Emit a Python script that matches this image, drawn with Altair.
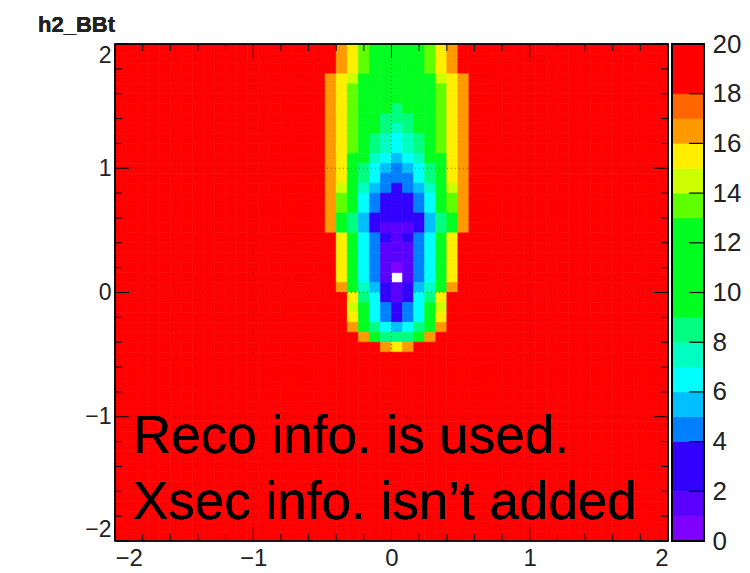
import altair as alt
import pandas as pd

# ---- histogram definition: 50 x 50 bins on [-2, 2] x [-2, 2] ----
N_BINS = 50
X_MIN, X_MAX = -2.0, 2.0
Y_MIN, Y_MAX = -2.0, 2.0

# colour contours (z range 0..20) and the palette colour of each band
z_edges = [0, 1, 2, 4, 5, 6, 7, 8, 9, 13, 14, 15, 16, 17, 18, 20]
z_colors = ["#8000ff", "#5a00ff", "#3200ff", "#0080ff", "#00bfff", "#00ffff",
            "#00ffc0", "#00ff80", "#00ff20", "#60ff00", "#ccff00", "#ffee00",
            "#ff9900", "#ff6600", "#ff0000"]

# bins above the z maximum everywhere outside the central block
z_saturated = 20

# bin contents of the central block: x bins 18..32, y bins counted from the top (row 0 = y in [1.92, 2.00])
core_first_col = 18
core_rows = [
    [19, 19, 16.5, 15.5, 13.5, 11, 11, 11, 11, 11, 13.5, 15.5, 16.5, 19, 19],
    [19, 19, 16.5, 15.5, 13.5, 11, 11, 11, 11, 11, 13.5, 15.5, 16.5, 19, 19],
    [19, 19, 16.5, 15.5, 13.5, 11, 11, 11, 11, 11, 13.5, 15.5, 16.5, 19, 19],
    [19, 16.5, 15.5, 14.5, 11, 11, 11, 11, 11, 11, 11, 14.5, 15.5, 16.5, 19],
    [19, 16.5, 15.5, 13.5, 11, 11, 11, 11, 11, 11, 11, 13.5, 15.5, 16.5, 19],
    [19, 16.5, 15.5, 13.5, 11, 11, 11, 11, 11, 11, 11, 13.5, 15.5, 16.5, 19],
    [19, 16.5, 15.5, 13.5, 11, 11, 11, 8.5, 11, 11, 11, 13.5, 15.5, 16.5, 19],
    [19, 16.5, 15.5, 13.5, 11, 11, 8.5, 8.5, 8.5, 11, 11, 13.5, 15.5, 16.5, 19],
    [19, 16.5, 15.5, 13.5, 11, 11, 8.5, 7.5, 8.5, 11, 11, 13.5, 15.5, 16.5, 19],
    [19, 16.5, 15.5, 13.5, 11, 8.5, 7.5, 6.5, 7.5, 8.5, 11, 13.5, 15.5, 16.5, 19],
    [19, 16.5, 15.5, 13.5, 11, 8.5, 7.5, 6.5, 7.5, 8.5, 11, 13.5, 15.5, 16.5, 19],
    [19, 16.5, 15.5, 11, 11, 7.5, 6.5, 5.5, 6.5, 7.5, 11, 11, 15.5, 16.5, 19],
    [19, 16.5, 15.5, 11, 8.5, 6.5, 5.5, 4.5, 5.5, 6.5, 8.5, 11, 15.5, 16.5, 19],
    [19, 16.5, 15.5, 11, 8.5, 6.5, 4.5, 4.5, 4.5, 6.5, 8.5, 11, 15.5, 16.5, 19],
    [19, 16.5, 14.5, 11, 7.5, 5.5, 4.5, 3, 4.5, 5.5, 7.5, 11, 14.5, 16.5, 19],
    [19, 16.5, 13.5, 11, 6.5, 4.5, 3, 3, 3, 4.5, 6.5, 11, 13.5, 16.5, 19],
    [19, 16.5, 13.5, 11, 6.5, 4.5, 3, 3, 3, 4.5, 6.5, 11, 13.5, 16.5, 19],
    [19, 16.5, 11, 8.5, 5.5, 3, 3, 3, 3, 3, 5.5, 8.5, 11, 16.5, 19],
    [19, 16.5, 11, 8.5, 5.5, 3, 1.5, 1.5, 1.5, 3, 5.5, 8.5, 11, 16.5, 19],
    [19, 19, 15.5, 11, 6.5, 4.5, 3, 1.5, 3, 4.5, 6.5, 11, 15.5, 19, 19],
    [19, 19, 15.5, 11, 6.5, 4.5, 1.5, 1.5, 1.5, 4.5, 6.5, 11, 15.5, 19, 19],
    [19, 19, 15.5, 11, 6.5, 4.5, 1.5, 1.5, 1.5, 4.5, 6.5, 11, 15.5, 19, 19],
    [19, 19, 15.5, 11, 6.5, 4.5, 1.5, 0.5, 1.5, 4.5, 6.5, 11, 15.5, 19, 19],
    [19, 19, 15.5, 11, 6.5, 4.5, 1.5, 0, 1.5, 4.5, 6.5, 11, 15.5, 19, 19],
    [19, 19, 16.5, 11, 7.5, 5.5, 3, 1.5, 3, 5.5, 7.5, 11, 16.5, 19, 19],
    [19, 19, 19, 15.5, 8.5, 6.5, 3, 1.5, 3, 6.5, 8.5, 15.5, 19, 19, 19],
    [19, 19, 19, 14.5, 11, 6.5, 4.5, 3, 4.5, 6.5, 11, 14.5, 19, 19, 19],
    [19, 19, 19, 15.5, 11, 6.5, 4.5, 3, 4.5, 6.5, 11, 15.5, 19, 19, 19],
    [19, 19, 19, 16.5, 11, 8.5, 6.5, 5.5, 6.5, 8.5, 11, 16.5, 19, 19, 19],
    [19, 19, 19, 19, 16.5, 11, 8.5, 8.5, 8.5, 11, 16.5, 19, 19, 19, 19],
    [19, 19, 19, 19, 19, 19, 16.5, 15.5, 16.5, 19, 19, 19, 19, 19, 19],
]

# axis ticks and labels
major_ticks = [-2, -1, 0, 1, 2]
minor_ticks = [-1.8, -1.6, -1.4, -1.2, -0.8, -0.6, -0.4, -0.2,
               0.2, 0.4, 0.6, 0.8, 1.2, 1.4, 1.6, 1.8]
grid_lines = [-1, 0, 1]
z_ticks = [2, 4, 6, 8, 10, 12, 14, 16, 18]
z_labels = [0, 2, 4, 6, 8, 10, 12, 14, 16, 18, 20]

hist_name = "h2_BBt"
note_text = "Reco info. is used.\nXsec info. isn\u2019t added"

# ---- layout (pixels) ----
W, H = 553, 497
PAD_L, PAD_T = 115, 44
CB_X0, CB_X1 = 557, 589
MAJ_LEN, MIN_LEN, CB_TICK_LEN = 14, 7, 15
FONT = "Liberation Sans"

# ---- build the bin table ----
dx = (X_MAX - X_MIN) / N_BINS
dy = (Y_MAX - Y_MIN) / N_BINS
n_core_cols = len(core_rows[0])
cells = []
for j in range(N_BINS):
    y_hi = Y_MAX - j * dy
    for k in range(N_BINS):
        x_lo = X_MIN + k * dx
        if j < len(core_rows) and core_first_col <= k < core_first_col + n_core_cols:
            z = core_rows[j][k - core_first_col]
        else:
            z = z_saturated
        cells.append({"x0": x_lo, "x1": x_lo + dx, "y0": y_hi - dy, "y1": y_hi, "z": z})
cells = pd.DataFrame(cells)

bands = pd.DataFrame({"lo": z_edges[:-1], "hi": z_edges[1:]})
bands["mid"] = (bands["lo"] + bands["hi"]) / 2

xs = alt.Scale(domain=[X_MIN, X_MAX], nice=False, zero=False)
ys = alt.Scale(domain=[Y_MIN, Y_MAX], nice=False, zero=False)
zs = alt.Scale(type="threshold", domain=z_edges[1:-1], range=z_colors)

axis_common = dict(ticks=False, domain=False, grid=False, title=None, format="d",
                   labelFont=FONT, labelColor="#222222")

# ---- 2D histogram (empty bins are not painted) ----
heat = alt.Chart(cells).transform_filter("datum.z > 0").mark_rect(strokeWidth=0.6).encode(
    x=alt.X("x0:Q", scale=xs, axis=alt.Axis(values=major_ticks, orient="bottom",
                                             labelPadding=5, labelFontSize=24,
                                             **axis_common)),
    x2="x1:Q",
    y=alt.Y("y0:Q", scale=ys, axis=alt.Axis(values=major_ticks, orient="left",
                                             labelPadding=4, labelFontSize=23,
                                             labelFlush=6, **axis_common)),
    y2="y1:Q",
    color=alt.Color("z:Q", scale=zs, legend=None),
    stroke=alt.Stroke("z:Q", scale=zs, legend=None),
)

tick_major = pd.DataFrame({"v": major_ticks})
tick_minor = pd.DataFrame({"v": minor_ticks})
grid_df = pd.DataFrame({"v": grid_lines})

grid_x = alt.Chart(grid_df).mark_rule(color="#000000", opacity=0.55, strokeWidth=1,
                                      strokeDash=[1, 3]).encode(x=alt.X("v:Q", scale=xs))
grid_y = alt.Chart(grid_df).mark_rule(color="#000000", opacity=0.55, strokeWidth=1,
                                      strokeDash=[1, 3]).encode(y=alt.Y("v:Q", scale=ys))


def tick_layers(df, length):
    rule = alt.Chart(df).mark_rule(color="#000000", strokeWidth=1)
    return [
        rule.encode(x=alt.X("v:Q", scale=xs), y=alt.value(H), y2=alt.value(H - length)),
        rule.encode(x=alt.X("v:Q", scale=xs), y=alt.value(0), y2=alt.value(length)),
        rule.encode(y=alt.Y("v:Q", scale=ys), x=alt.value(0), x2=alt.value(length)),
        rule.encode(y=alt.Y("v:Q", scale=ys), x=alt.value(W), x2=alt.value(W - length)),
    ]


frame = alt.Chart(grid_df).mark_rect(fillOpacity=0, stroke="#000000", strokeWidth=1.2).encode(
    x=alt.value(0), x2=alt.value(W), y=alt.value(0), y2=alt.value(H))

title = alt.Chart(grid_df).mark_text(align="right", baseline="alphabetic", font=FONT,
                                     fontSize=22, fontWeight="bold", color="#222222").encode(
    x=alt.value(0), y=alt.value(-12), text=alt.value(hist_name))

note = alt.Chart(grid_df).mark_text(align="left", baseline="alphabetic", font=FONT,
                                    fontSize=53, lineBreak="\n", lineHeight=66,
                                    color="#000000").encode(
    x=alt.value(18), y=alt.value(409), text=alt.value(note_text))

main = alt.layer(heat, grid_x, grid_y, *tick_layers(tick_major, MAJ_LEN),
                 *tick_layers(tick_minor, MIN_LEN), frame)

# ---- colour bar ----
zy = alt.Scale(domain=[z_edges[0], z_edges[-1]], nice=False, zero=False)
cb_rect = alt.Chart(bands).mark_rect(strokeWidth=0.6).encode(
    x=alt.value(CB_X0), x2=alt.value(CB_X1),
    y=alt.Y("lo:Q", scale=zy, axis=alt.Axis(orient="right", offset=CB_X1 - W,
                                             values=z_labels, labelPadding=8,
                                             labelFontSize=26, **axis_common)),
    y2="hi:Q",
    color=alt.Color("mid:Q", scale=zs, legend=None),
    stroke=alt.Stroke("mid:Q", scale=zs, legend=None),
)
cb_ticks = alt.Chart(pd.DataFrame({"v": z_ticks})).mark_rule(color="#000000", strokeWidth=1.2).encode(
    y=alt.Y("v:Q", scale=zy), x=alt.value(CB_X1 - CB_TICK_LEN), x2=alt.value(CB_X1))
cb_frame = alt.Chart(bands).mark_rect(fillOpacity=0, stroke="#000000", strokeWidth=1.2).encode(
    x=alt.value(CB_X0), x2=alt.value(CB_X1), y=alt.value(0), y2=alt.value(H))
colorbar = alt.layer(cb_rect, cb_ticks, cb_frame)

chart = alt.layer(main, colorbar, title, note).resolve_scale(
    y="independent"
).properties(
    width=W, height=H,
    autosize=alt.AutoSizeParams(type="none"),
    padding={"left": PAD_L, "top": PAD_T, "right": 750 - PAD_L - W, "bottom": 573 - PAD_T - H},
    background="#ffffff",
).configure_view(strokeWidth=0)

chart.save("out.html", embed_options={"renderer": "svg", "actions": False})
